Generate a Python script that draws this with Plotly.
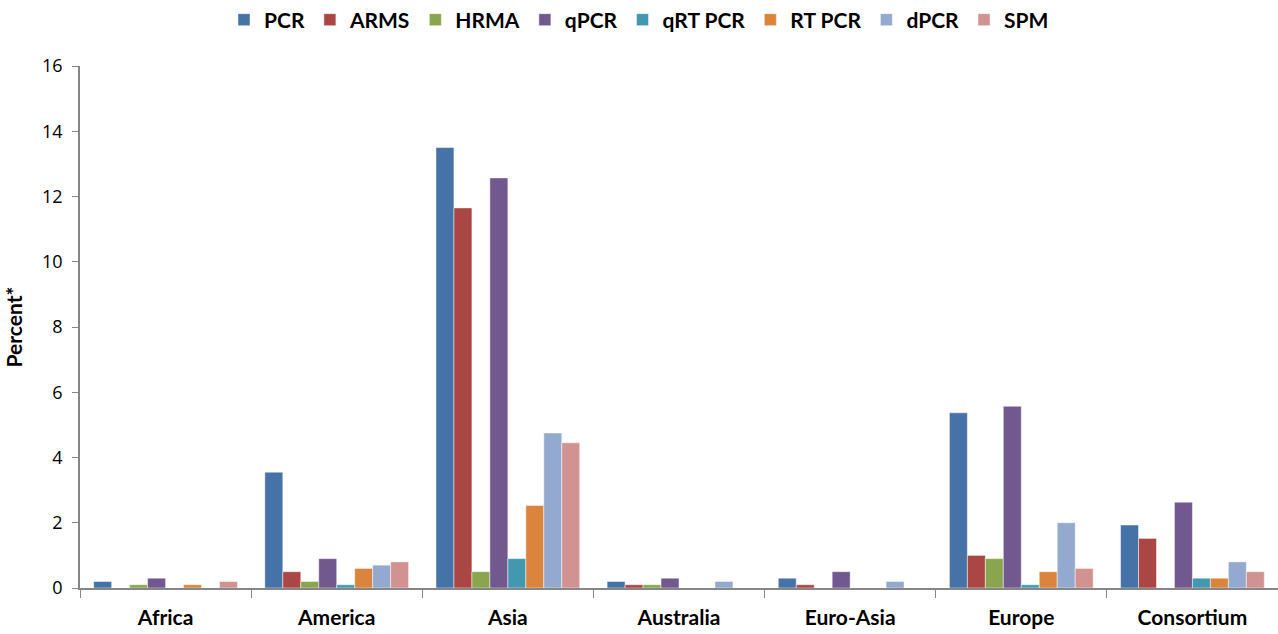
import plotly.graph_objects as go

regions = ["Africa", "America", "Asia", "Australia", "Euro-Asia", "Europe", "Consortium"]

pcr = [0.2, 3.55, 13.5, 0.2, 0.3, 5.37, 1.93]
arms = [0.0, 0.5, 11.65, 0.1, 0.1, 1.0, 1.52]
hrma = [0.1, 0.2, 0.5, 0.1, 0.0, 0.9, 0.0]
qpcr = [0.3, 0.9, 12.57, 0.3, 0.5, 5.57, 2.63]
qrt_pcr = [0.0, 0.1, 0.9, 0.0, 0.0, 0.1, 0.3]
rt_pcr = [0.1, 0.6, 2.53, 0.0, 0.0, 0.5, 0.3]
dpcr = [0.0, 0.7, 4.75, 0.2, 0.2, 2.0, 0.8]
spm = [0.2, 0.8, 4.45, 0.0, 0.0, 0.6, 0.5]

series = [
    ("PCR", pcr, "#4572A7"),
    ("ARMS", arms, "#AA4643"),
    ("HRMA", hrma, "#89A54E"),
    ("qPCR", qpcr, "#71588F"),
    ("qRT PCR", qrt_pcr, "#4198AF"),
    ("RT PCR", rt_pcr, "#DB843D"),
    ("dPCR", dpcr, "#93A9CF"),
    ("SPM", spm, "#D19392"),
]

fig = go.Figure()
for name, vals, color in series:
    fig.add_trace(go.Bar(
        name=name, x=regions, y=vals,
        marker=dict(color=color, line=dict(color="rgba(255,255,255,0.6)", width=0.8)),
    ))

axis_color = "#868686"
fig.update_layout(
    width=1278, height=634,
    barmode="group", bargap=0.16, bargroupgap=0,
    paper_bgcolor="white", plot_bgcolor="white",
    margin=dict(l=80, r=0, t=66, b=46, autoexpand=False),
    font=dict(family="Lato, Open Sans, sans-serif", color="black"),
    legend=dict(
        orientation="h", x=0.5, xanchor="center", xref="container",
        y=1 - 20 / 634, yanchor="middle", yref="container",
        font=dict(size=21, family="Lato", weight="bold"),
        itemwidth=30, tracegroupgap=0, traceorder="normal",
    ),
    xaxis=dict(
        range=[-0.5, 6.5], showline=True, linecolor=axis_color, linewidth=1.5,
        ticks="outside", tickson="boundaries", ticklen=8, tickcolor=axis_color,
        tickfont=dict(size=21, family="Lato", weight="bold"), showgrid=False,
        ticklabelstandoff=10,
    ),
    yaxis=dict(
        range=[0, 16], dtick=2, showline=True, linecolor=axis_color, linewidth=1.5,
        ticks="outside", ticklen=6, tickcolor=axis_color, showgrid=False, zeroline=False,
        tickfont=dict(size=18, family="Open Sans"), ticklabelstandoff=6,
        title=dict(text="Percent*", font=dict(size=21, family="Lato", weight="bold"), standoff=14),
    ),
)

fig.write_html("out.html")
